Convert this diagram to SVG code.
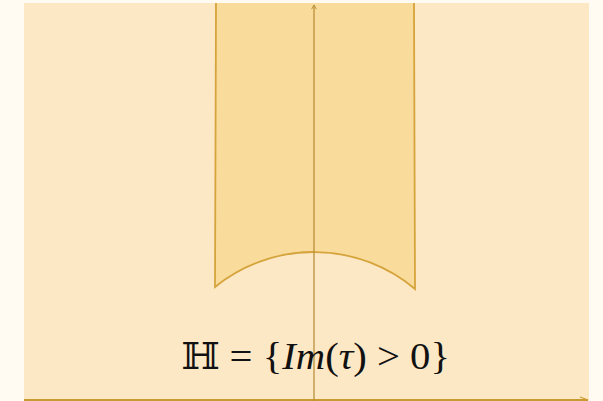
<svg xmlns="http://www.w3.org/2000/svg" width="603" height="401" viewBox="0 0 603 401">
<defs>
<style>
.axis{stroke:#b88f3c;stroke-width:1.3;fill:none}
.edge{stroke:#d6a43c;stroke-width:1.8;fill:none}
.lbl{font-family:"Liberation Serif","DejaVu Serif",serif;font-size:37px;fill:#111}
</style>
<marker id="arr" viewBox="0 0 10 10" refX="8" refY="5" markerWidth="6" markerHeight="6" orient="auto" markerUnits="userSpaceOnUse">
<path d="M1,1 L8,5 L1,9" fill="none" stroke="#b88f3c" stroke-width="1.6"/>
</marker>
</defs>
<rect x="0" y="0" width="603" height="401" fill="#fffaf2"/>
<rect x="24" y="3" width="565" height="398" fill="#fde8c6"/>
<g id="strip">
<path d="M215,3 L215,287 A157,157 0 0 1 415,289 L415,3 Z" fill="#f9dc9c"/>
<path class="edge" d="M216,3 L215,287 A157,157 0 0 1 415,289 L414,3"/>
</g>
<g id="axes">
<line x1="24" y1="400" x2="588" y2="400" stroke="#c99a2e" stroke-width="2"/>
<line class="axis" x1="314" y1="401" x2="314" y2="5" marker-end="url(#arr)"/>
<line x1="580" y1="397" x2="588" y2="400" stroke="#c99a2e" stroke-width="1.3"/>
</g>
<g id="label">
<text class="lbl" x="181" y="369" textLength="269" lengthAdjust="spacingAndGlyphs">ℍ = {<tspan font-style="italic">Im</tspan>(<tspan font-style="italic">τ</tspan>) &gt; 0}</text>
</g>
</svg>
